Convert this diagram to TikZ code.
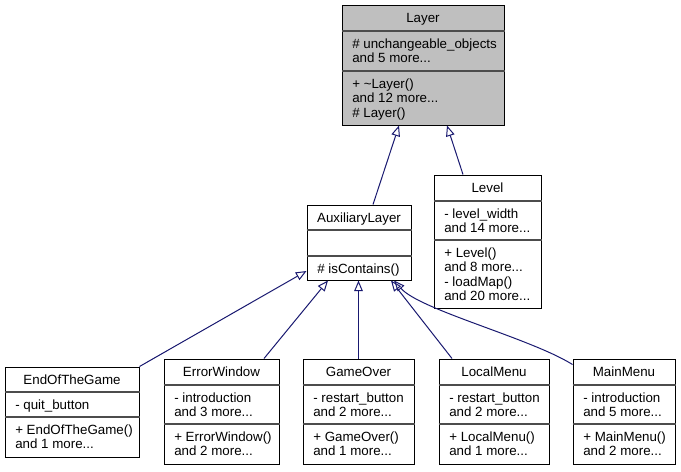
\documentclass[tikz,border=0pt]{standalone}
\usepackage{fontspec}
\setmainfont{Liberation Sans}
\usetikzlibrary{arrows.meta, calc, fit}
\definecolor{edgeblue}{RGB}{25, 25, 112}
\definecolor{basegray}{RGB}{191, 191, 191}

\begin{document}
\begin{tikzpicture}[
    x=0.75pt, y=-0.75pt,
    every node/.style={font=\fontsize{10}{10.875}\selectfont},
    cls/.style={rectangle, draw=black, line width=0.75pt, fill=#1, inner sep=0pt},
    cls/.default=white,
    sep/.style={draw=black!70, line width=0.9pt},
    clsname/.style={anchor=base, inner sep=0pt},
    % multi-line members: placed at the baseline of their last line
    member/.style={anchor=base west, inner sep=0pt, align=left},
    inherit/.style={-{Triangle[open, length=8pt, width=6.5pt]}, draw=edgeblue, line width=0.75pt}
]
\useasboundingbox (0,0) rectangle (681,471);

% Layer (base class)
\node[cls=basegray, fit={(342,5) (504,125)}] (layer) {};
\draw[sep] (layer.west |- 0,31) -- (layer.east |- 0,31);
\draw[sep] (layer.west |- 0,71) -- (layer.east |- 0,71);
\node[clsname] (layer-name) at (423,22) {Layer};
\node[member] (layer-attr) at (352,62.5) {\# unchangeable\_objects\\and 5 more...};
\node[member] (layer-ops) at (352,117) {+ \textasciitilde Layer()\\and 12 more...\\\# Layer()};

% AuxiliaryLayer
\node[cls, fit={(307,205) (411,280)}] (auxlayer) {};
\draw[sep] (auxlayer.west |- 0,230) -- (auxlayer.east |- 0,230);
\draw[sep] (auxlayer.west |- 0,256) -- (auxlayer.east |- 0,256);
\node[clsname] (auxlayer-name) at (359,222) {AuxiliaryLayer};
\node[member] (auxlayer-ops) at (317,273) {\# isContains()};

% Level
\node[cls, fit={(434,175) (541,308)}] (level) {};
\draw[sep] (level.west |- 0,201) -- (level.east |- 0,201);
\draw[sep] (level.west |- 0,240) -- (level.east |- 0,240);
\node[clsname] (level-name) at (487.5,192) {Level};
\node[member] (level-attr) at (444,232.5) {- level\_width\\and 14 more...};
\node[member] (level-ops) at (444,300.5) {+ Level()\\and 8 more...\\- loadMap()\\and 20 more...};

% EndOfTheGame
\node[cls, fit={(5,367) (139,457)}] (endgame) {};
\draw[sep] (endgame.west |- 0,392) -- (endgame.east |- 0,392);
\draw[sep] (endgame.west |- 0,417) -- (endgame.east |- 0,417);
\node[clsname] (endgame-name) at (72,384) {EndOfTheGame};
\node[member] (endgame-attr) at (15,409) {- quit\_button};
\node[member] (endgame-ops) at (15,448.5) {+ EndOfTheGame()\\and 1 more...};

% ErrorWindow
\node[cls, fit={(164,359) (279,464)}] (errwin) {};
\draw[sep] (errwin.west |- 0,385) -- (errwin.east |- 0,385);
\draw[sep] (errwin.west |- 0,424) -- (errwin.east |- 0,424);
\node[clsname] (errwin-name) at (221.5,376) {ErrorWindow};
\node[member] (errwin-attr) at (174,416.5) {- introduction\\and 3 more...};
\node[member] (errwin-ops) at (174,455.5) {+ ErrorWindow()\\and 2 more...};

% GameOver
\node[cls, fit={(303,359) (414,464)}] (gameover) {};
\draw[sep] (gameover.west |- 0,385) -- (gameover.east |- 0,385);
\draw[sep] (gameover.west |- 0,424) -- (gameover.east |- 0,424);
\node[clsname] (gameover-name) at (358.5,376) {GameOver};
\node[member] (gameover-attr) at (313,416.5) {- restart\_button\\and 2 more...};
\node[member] (gameover-ops) at (313,455.5) {+ GameOver()\\and 1 more...};

% LocalMenu
\node[cls, fit={(439,359) (549,464)}] (localmenu) {};
\draw[sep] (localmenu.west |- 0,385) -- (localmenu.east |- 0,385);
\draw[sep] (localmenu.west |- 0,424) -- (localmenu.east |- 0,424);
\node[clsname] (localmenu-name) at (494,376) {LocalMenu};
\node[member] (localmenu-attr) at (449,416.5) {- restart\_button\\and 2 more...};
\node[member] (localmenu-ops) at (449,455.5) {+ LocalMenu()\\and 1 more...};

% MainMenu
\node[cls, fit={(573,359) (675,464)}] (mainmenu) {};
\draw[sep] (mainmenu.west |- 0,385) -- (mainmenu.east |- 0,385);
\draw[sep] (mainmenu.west |- 0,424) -- (mainmenu.east |- 0,424);
\node[clsname] (mainmenu-name) at (624,376) {MainMenu};
\node[member] (mainmenu-attr) at (583,416.5) {- introduction\\and 5 more...};
\node[member] (mainmenu-ops) at (583,455.5) {+ MainMenu()\\and 2 more...};

% inheritance edges
\draw[inherit] ($(auxlayer.north)+(14,0)$) -- ($(layer.south)+(-24,0)$);
\draw[inherit] ($(level.north)+(-24.5,0)$) -- ($(layer.south)+(24,0)$);
\draw[inherit] (endgame.north east) -- ($(auxlayer.west)+(0,28.5)$);
\draw[inherit] ($(errwin.north)+(42.5,0)$) -- ($(auxlayer.south)+(-31,0)$);
\draw[inherit] (gameover.north) -- (gameover.north |- auxlayer.south);
\draw[inherit] ($(localmenu.north)+(-42,0)$) -- ($(auxlayer.south)+(32,0)$);
\draw[inherit] ($(mainmenu.north west)+(0,6)$) .. controls (530,338) and (420,310) .. ($(auxlayer.south)+(35,0)$);

\end{tikzpicture}
\end{document}
